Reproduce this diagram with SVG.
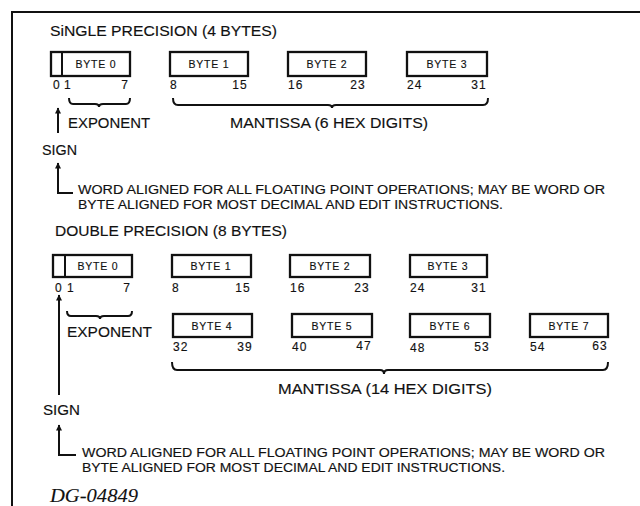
<svg xmlns="http://www.w3.org/2000/svg" width="640" height="506" viewBox="0 0 640 506">
<defs>
<style>
.frame{fill:none;stroke:#111;stroke-width:2}
.box{fill:#fff;stroke:#111;stroke-width:2.3}
.ln{fill:none;stroke:#111;stroke-width:2}
.br{fill:none;stroke:#111;stroke-width:2}
text{font-family:"Liberation Sans",Arial,sans-serif;fill:#111;stroke:#111;stroke-width:0.15}
.t{font-size:14px}
.big{font-size:15.5px}
.bl{font-size:10.5px;letter-spacing:0.8px}
.bit{font-size:12px;letter-spacing:1.2px}
.note{font-size:12.5px}
.dg{font-family:"Liberation Serif","Times New Roman",serif;font-style:italic;font-size:18px;stroke-width:0.1}
</style>
<marker id="ah" viewBox="0 0 10 10" refX="9" refY="5" markerWidth="8" markerHeight="6" markerUnits="userSpaceOnUse" orient="auto">
<path d="M0,0 L10,5 L0,10 z" fill="#111"/>
</marker>
</defs>
<rect width="640" height="506" fill="#fff"/>
<path class="frame" d="M12,506 L12,12 L640,12"/>

<g id="single">
<text class="t" x="50" y="36" textLength="227" lengthAdjust="spacingAndGlyphs">SiNGLE PRECISION  (4 BYTES)</text>
<g id="s-byte0">
<rect class="box" x="51" y="52" width="79" height="24"/>
<line class="ln" x1="62" y1="52" x2="62" y2="76"/>
<text class="bl" x="96" y="68" text-anchor="middle">BYTE 0</text>
<text class="bit" x="57" y="89" text-anchor="middle">0</text>
<text class="bit" x="64" y="89">1</text>
<text class="bit" x="129" y="89" text-anchor="end">7</text>
</g>
<g id="s-byte1">
<rect class="box" x="170" y="52" width="78" height="24"/>
<text class="bl" x="209" y="68" text-anchor="middle">BYTE 1</text>
<text class="bit" x="170" y="89">8</text>
<text class="bit" x="248" y="89" text-anchor="end">15</text>
</g>
<g id="s-byte2">
<rect class="box" x="288" y="52" width="78" height="24"/>
<text class="bl" x="327" y="68" text-anchor="middle">BYTE 2</text>
<text class="bit" x="288" y="89">16</text>
<text class="bit" x="366" y="89" text-anchor="end">23</text>
</g>
<g id="s-byte3">
<rect class="box" x="407" y="52" width="80" height="24"/>
<text class="bl" x="447" y="68" text-anchor="middle">BYTE 3</text>
<text class="bit" x="407" y="89">24</text>
<text class="bit" x="487" y="89" text-anchor="end">31</text>
</g>
<text class="big" x="68" y="128" textLength="82" lengthAdjust="spacingAndGlyphs">EXPONENT</text>
<text class="big" x="230" y="128" textLength="198" lengthAdjust="spacingAndGlyphs">MANTISSA (6 HEX DIGITS)</text>
<text class="t" x="42" y="155" textLength="35" lengthAdjust="spacingAndGlyphs">SIGN</text>
<text class="note" x="78" y="194" textLength="527" lengthAdjust="spacingAndGlyphs">WORD ALIGNED FOR ALL FLOATING POINT OPERATIONS; MAY BE WORD OR</text>
<text class="note" x="78" y="209" textLength="425" lengthAdjust="spacingAndGlyphs">BYTE ALIGNED FOR MOST DECIMAL AND EDIT INSTRUCTIONS.</text>
</g>

<g id="double">
<text class="t" x="55" y="236" textLength="232" lengthAdjust="spacingAndGlyphs">DOUBLE PRECISION (8 BYTES)</text>
<g id="d-byte0">
<rect class="box" x="53" y="255" width="79" height="22"/>
<line class="ln" x1="65" y1="255" x2="65" y2="277"/>
<text class="bl" x="98" y="270" text-anchor="middle">BYTE 0</text>
<text class="bit" x="59" y="292" text-anchor="middle">0</text>
<text class="bit" x="67" y="292">1</text>
<text class="bit" x="131" y="292" text-anchor="end">7</text>
</g>
<g id="d-byte1">
<rect class="box" x="172" y="255" width="79" height="22"/>
<text class="bl" x="211" y="270" text-anchor="middle">BYTE 1</text>
<text class="bit" x="172" y="292">8</text>
<text class="bit" x="251" y="292" text-anchor="end">15</text>
</g>
<g id="d-byte2">
<rect class="box" x="290" y="255" width="80" height="22"/>
<text class="bl" x="330" y="270" text-anchor="middle">BYTE 2</text>
<text class="bit" x="290" y="292">16</text>
<text class="bit" x="370" y="292" text-anchor="end">23</text>
</g>
<g id="d-byte3">
<rect class="box" x="410" y="255" width="77" height="22"/>
<text class="bl" x="448" y="270" text-anchor="middle">BYTE 3</text>
<text class="bit" x="410" y="292">24</text>
<text class="bit" x="487" y="292" text-anchor="end">31</text>
</g>
<g id="d-byte4">
<rect class="box" x="173" y="314" width="79" height="23"/>
<text class="bl" x="212" y="330" text-anchor="middle">BYTE 4</text>
<text class="bit" x="173" y="351">32</text>
<text class="bit" x="253" y="351" text-anchor="end">39</text>
</g>
<g id="d-byte5">
<rect class="box" x="292" y="314" width="80" height="23"/>
<text class="bl" x="332" y="330" text-anchor="middle">BYTE 5</text>
<text class="bit" x="292" y="351">40</text>
<text class="bit" x="372" y="350" text-anchor="end">47</text>
</g>
<g id="d-byte6">
<rect class="box" x="410" y="314" width="80" height="23"/>
<text class="bl" x="450" y="330" text-anchor="middle">BYTE 6</text>
<text class="bit" x="410" y="352">48</text>
<text class="bit" x="490" y="351" text-anchor="end">53</text>
</g>
<g id="d-byte7">
<rect class="box" x="530" y="314" width="78" height="23"/>
<text class="bl" x="569" y="330" text-anchor="middle">BYTE 7</text>
<text class="bit" x="530" y="351">54</text>
<text class="bit" x="608" y="350" text-anchor="end">63</text>
</g>
<text class="big" x="67" y="337" textLength="85" lengthAdjust="spacingAndGlyphs">EXPONENT</text>
<text class="big" x="278" y="394" textLength="214" lengthAdjust="spacingAndGlyphs">MANTISSA (14 HEX DIGITS)</text>
<text class="t" x="43" y="415" textLength="37" lengthAdjust="spacingAndGlyphs">SIGN</text>
<text class="note" x="82" y="457" textLength="523" lengthAdjust="spacingAndGlyphs">WORD ALIGNED FOR ALL FLOATING POINT OPERATIONS; MAY BE WORD OR</text>
<text class="note" x="82" y="472" textLength="423" lengthAdjust="spacingAndGlyphs">BYTE ALIGNED FOR MOST DECIMAL AND EDIT INSTRUCTIONS.</text>
</g>

<g id="connectors">
<path class="br" d="M69,98 Q69,104 73,104 L95,104 Q99,104 99,107 Q99,104 103,104 L126,104 Q130,104 130,98"/>
<path class="br" d="M173,98 Q173,105 178,105 L328,105 Q332,105 332,108 Q332,105 336,105 L483,105 Q488,105 488,98"/>
<path class="br" d="M67,311 Q67,316 71,316 L96,316 Q100,316 100,319 Q100,316 104,316 L128,316 Q132,316 132,311"/>
<path class="br" d="M172,362 Q172,370 177,370 L380,370 Q384,370 384,374 Q384,370 388,370 L603,370 Q608,370 608,362"/>
<line class="ln" x1="58" y1="133" x2="58" y2="108" marker-end="url(#ah)"/>
<path class="ln" d="M73,193 L58,193 L58,163" marker-end="url(#ah)"/>
<line class="ln" x1="59" y1="395" x2="59" y2="295" marker-end="url(#ah)"/>
<path class="ln" d="M76,455 L59,455 L59,425" marker-end="url(#ah)"/>
</g>

<text class="dg" x="50" y="502" textLength="88" lengthAdjust="spacingAndGlyphs">DG-04849</text>
</svg>
